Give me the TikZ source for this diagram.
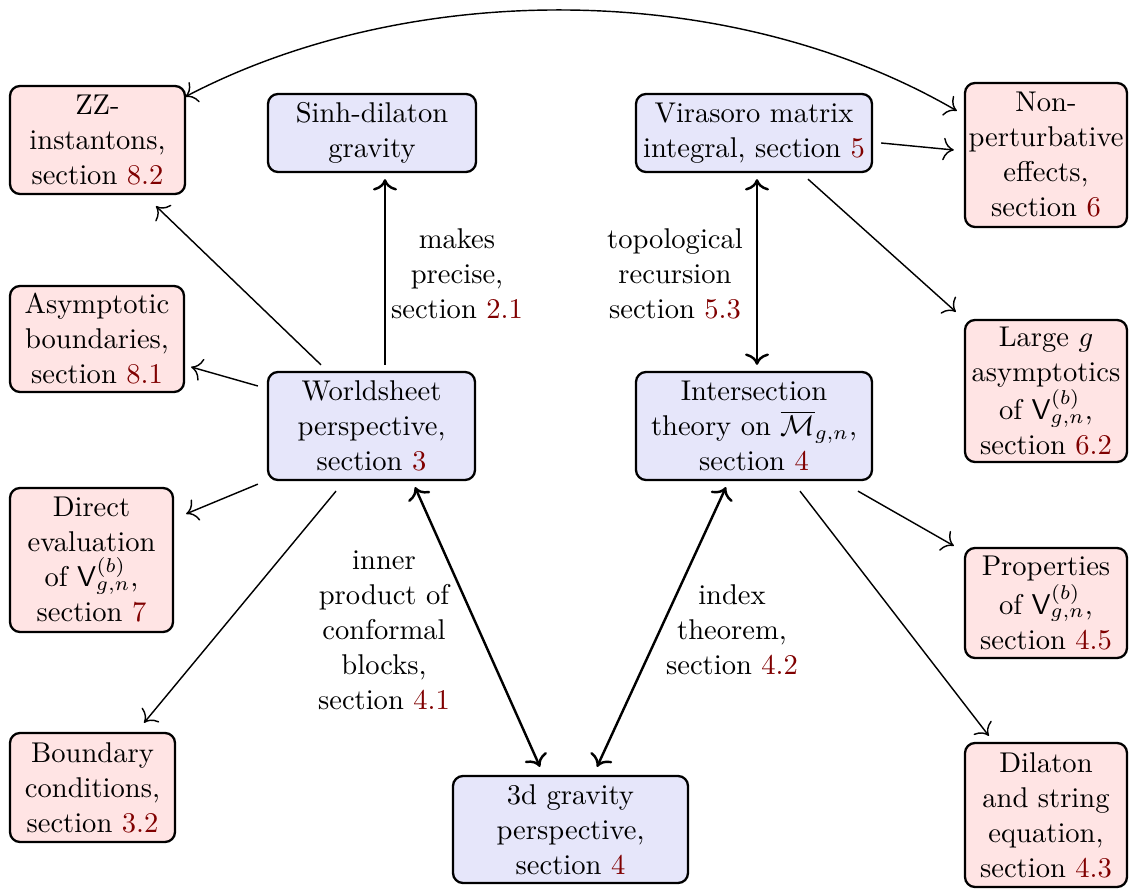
\documentclass[tikz,border=0pt]{standalone}
\usepackage{amsmath}
\usetikzlibrary{arrows.meta}
\definecolor{secred}{RGB}{128,0,0}
\definecolor{bluefill}{RGB}{230,230,250}
\definecolor{pinkfill}{RGB}{255,228,228}
\newcommand\sref[1]{\textcolor{secred}{#1}}
\begin{document}
\begin{tikzpicture}[x=0.35pt,y=-0.35pt,
  box/.style={draw, line width=0.8pt, rounded corners=3.5pt, align=center, inner sep=0pt,
    font=\fontsize{10}{12.25}\selectfont},
  bbox/.style={box, fill=bluefill},
  pbox/.style={box, fill=pinkfill},
  lab/.style={align=center, inner sep=0pt, font=\fontsize{10}{12.25}\selectfont},
  thickarr/.style={line width=0.85pt, >={To[scale=1.15]}},
  thinarr/.style={line width=0.5pt, >={To[scale=1.4]}}]
\useasboundingbox (0,0) rectangle (1129,889);

\node[pbox, minimum width=61.25pt, minimum height=37.8pt] (zz) at (97.5,140) {ZZ-\\instantons,\\section \sref{8.2}};
\node[bbox, minimum width=72.8pt, minimum height=27.3pt] (sinh) at (372,133) {Sinh-dilaton\\gravity};
\node[bbox, minimum width=82.6pt, minimum height=27.3pt] (vir) at (754,133) {Virasoro matrix\\integral, section \sref{5}};
\node[pbox, minimum width=56.7pt, minimum height=50.4pt] (np) at (1046,155) {Non-\\perturbative\\effects,\\section \sref{6}};
\node[pbox, minimum width=60.9pt, minimum height=37.1pt] (asy) at (97,339) {Asymptotic\\boundaries,\\section \sref{8.1}};
\node[bbox, minimum width=72.45pt, minimum height=37.8pt] (ws) at (371.5,426) {Worldsheet\\perspective,\\section \sref{3}};
\node[bbox, minimum width=82.6pt, minimum height=37.8pt] (int) at (754,426) {Intersection\\theory on $\overline{\mathcal{M}}_{g,n}$,\\section \sref{4}};
\node[pbox, minimum width=56.7pt, minimum height=49.7pt] (lg) at (1046,391) {Large $g$\\asymptotics\\of $\mathsf{V}^{(b)}_{g,n}$,\\section \sref{6.2}};
\node[pbox, minimum width=57.05pt, minimum height=50.4pt] (dir) at (91.5,560) {Direct\\evaluation\\of $\mathsf{V}^{(b)}_{g,n}$,\\section \sref{7}};
\node[pbox, minimum width=56.7pt, minimum height=38.5pt] (prop) at (1046,603) {Properties\\of $\mathsf{V}^{(b)}_{g,n}$,\\section \sref{4.5}};
\node[pbox, minimum width=57.75pt, minimum height=38.15pt] (bc) at (92.5,787.5) {Boundary\\conditions,\\section \sref{3.2}};
\node[bbox, minimum width=82.25pt, minimum height=37.45pt] (grav) at (570.5,829.5) {3d gravity\\perspective,\\section \sref{4}};
\node[pbox, minimum width=56.7pt, minimum height=50.4pt] (dil) at (1046,815) {Dilaton\\and string\\equation,\\section \sref{4.3}};

\node[lab] (l1) at (457,274) {makes\\precise,\\section \sref{2.1}};
\node[lab] (l2) at (675,274) {topological\\recursion\\section \sref{5.3}};
\node[lab] (l3) at (384,630) {inner\\product of\\conformal\\blocks,\\section \sref{4.1}};
\node[lab] (l4) at (732,630) {index\\theorem,\\section \sref{4.2}};

\draw[thickarr,->] ([shift={(13.5,-6)}]ws.north) -- ([shift={(13,6)}]sinh.south);
\draw[thickarr,<->] ([shift={(3,6)}]vir.south) -- ([shift={(3,-6)}]int.north);
\draw[thickarr,<->] ([shift={(43.5,6)}]ws.south) -- ([shift={(-30.5,-8)}]grav.north);
\draw[thickarr,<->] ([shift={(-28,6)}]int.south) -- ([shift={(26.5,-8)}]grav.north);

\draw[thinarr,->] ([shift={(-50.5,-6)}]ws.north) -- ([shift={(58.5,11)}]zz.south);
\draw[thinarr,->] ([shift={(-9,-40)}]ws.west) -- ([shift={(6,28)}]asy.east);
\draw[thinarr,->] ([shift={(-9,3)}]ws.south west) -- ([shift={(12,27)}]dir.north east);
\draw[thinarr,->] ([shift={(-35.5,10)}]ws.south) -- ([shift={(51.5,-9)}]bc.north);
\draw[thinarr,->] ([shift={(8,10)}]vir.east) -- ([shift={(-10,-5)}]np.west);
\draw[thinarr,->] ([shift={(54,6)}]vir.south) -- ([shift={(-8,-7)}]lg.north west);
\draw[thinarr,->] ([shift={(104,10)}]int.south) -- ([shift={(-10,-1)}]prop.north west);
\draw[thinarr,->] ([shift={(46,10)}]int.south) -- ([shift={(25,-6)}]dil.north west);
\draw[thinarr,<->] ([shift={(-1,12)}]zz.north east) .. controls (410,-21) and (730,-21) .. ([shift={(-7,29)}]np.north west);
\end{tikzpicture}
\end{document}
